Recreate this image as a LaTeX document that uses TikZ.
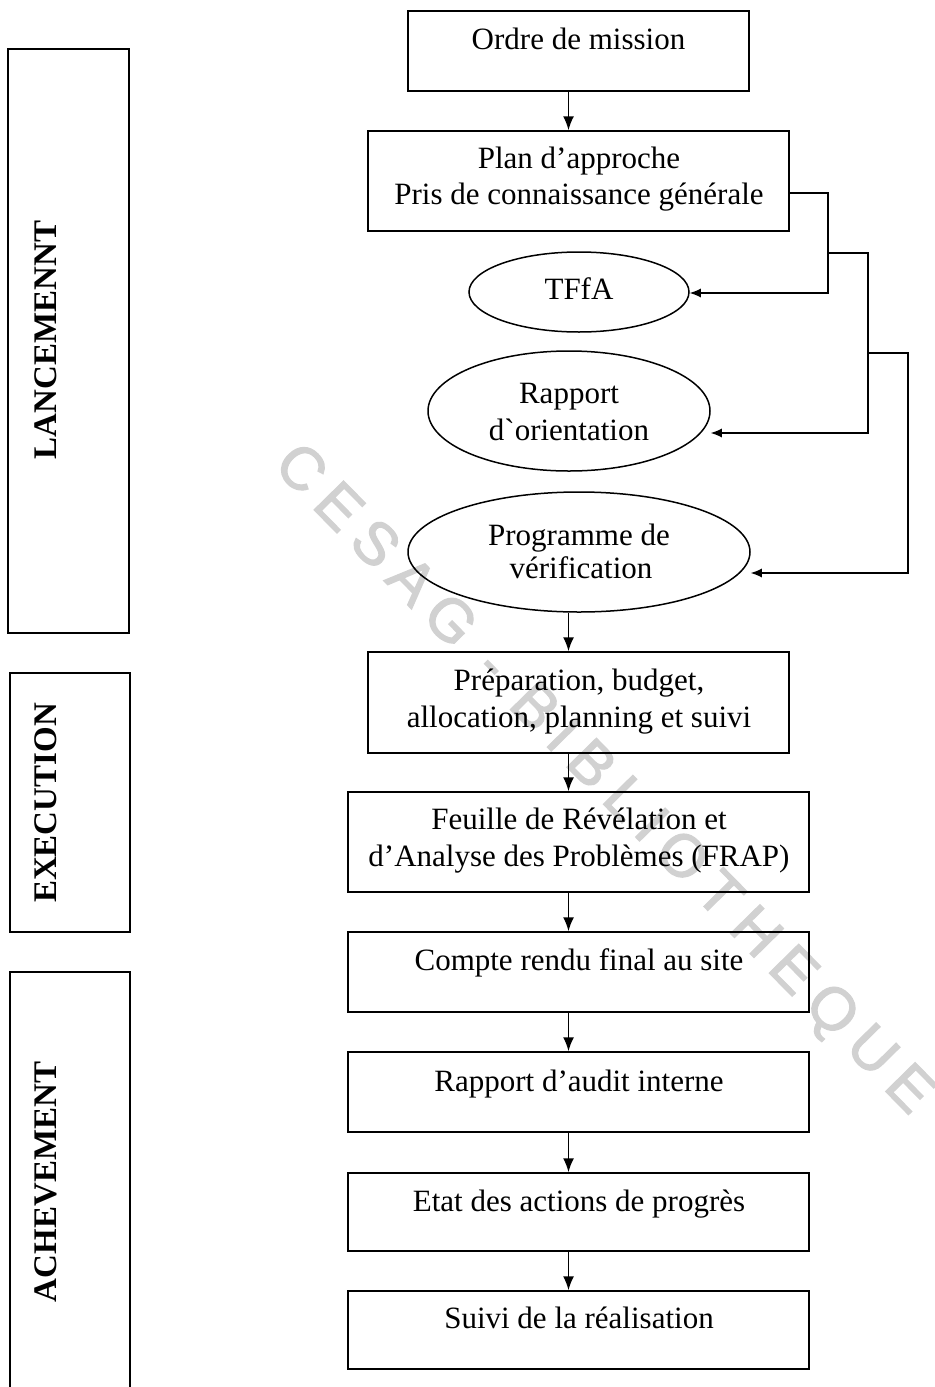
\documentclass[tikz,border=0pt]{standalone}
\usepackage{fontspec}
\setmainfont{Liberation Serif}
\newfontfamily\wmfont{Liberation Sans}[LetterSpace=20,FakeBold=2]
\usetikzlibrary{shapes.geometric,arrows.meta,fit}
% plain grave accent glyph (not turned into a quote by the TeX mapping)
\newcommand{\gravemark}{\XeTeXglyph\XeTeXcharglyph"0060\relax}

\begin{document}
\begin{tikzpicture}[x=0.5pt,y=-0.5pt,
  box/.style={draw, line width=0.75pt, rectangle, inner sep=0pt},
  oval/.style={draw, line width=0.75pt, ellipse, inner sep=0pt},
  txt/.style={anchor=base, inner sep=0pt, font=\fontsize{15.5pt}{18.5pt}\selectfont},
  phase/.style={anchor=base, rotate=90, inner sep=0pt, font=\fontsize{16.5pt}{19pt}\selectfont\bfseries},
  flow/.style={line width=0.8pt, -{Latex[length=7pt,width=5.5pt]}},
  feed/.style={line width=0.6pt, -{Latex[length=5.5pt,width=4.5pt]}}]

\useasboundingbox (0,0) rectangle (935,1387);
\fill[white] (0,0) rectangle (935,1387);

% library stamp across the page
\node[rotate=-45.5, text=black!18, inner sep=0pt,
      font=\wmfont\fontsize{30pt}{31pt}\selectfont] (stamp) at (602,781) {CESAG - BIBLIOTHEQUE};

% phase columns
\node[box, fit={(8,49) (129,633)}] (lanc) {};
\node[box, fit={(10,673) (130,932)}] (exec) {};
\node[box, fit={(10,972) (130,1400)}] (ach) {};
\node[phase] (lanc-t) at (56,340) {LANCEMENNT};
\node[phase] (exec-t) at (56,803) {EXECUTION};
\node[phase] (ach-t) at (56,1182) {ACHEVEMENT};

% process steps
\node[box, fit={(408,11) (749,91)}] (ordre) {};
\node[box, fit={(368,131) (789,231)}] (plan) {};
\node[oval, minimum width=110pt, minimum height=40pt] (tffa) at (579,292) {};
\node[oval, minimum width=141pt, minimum height=60pt] (rap) at (569,411) {};
\node[oval, minimum width=171pt, minimum height=60pt] (prog) at (579,552) {};
\node[box, fit={(368,652) (789,753)}] (prep) {};
\node[box, fit={(348,792) (809,892)}] (frap) {};
\node[box, fit={(348,932) (809,1012)}] (cr) {};
\node[box, fit={(348,1052) (809,1132)}] (rai) {};
\node[box, fit={(348,1173) (809,1251)}] (etat) {};
\node[box, fit={(348,1291) (809,1369)}] (suivi) {};

% labels
\node[txt] (ordre-t) at (578.5,49) {Ordre de mission};
\node[txt] (plan-t1) at (579,168) {Plan d’approche};
\node[txt] (plan-t2) at (579,204) {Pris de connaissance générale};
\node[txt] (tffa-t) at (579,299) {TFfA};
\node[txt] (rap-t1) at (569,403) {Rapport};
\node[txt] (rap-t2) at (569,440) {d\gravemark orientation};
\node[txt] (prog-t1) at (579,545) {Programme de};
\node[txt] (prog-t2) at (581,578) {vérification};
\node[txt] (prep-t1) at (579,690) {Préparation, budget,};
\node[txt] (prep-t2) at (579,727) {allocation, planning et suivi};
\node[txt] (frap-t1) at (579,829) {Feuille de Révélation et};
\node[txt] (frap-t2) at (579,866) {d’Analyse des Problèmes (FRAP)};
\node[txt] (cr-t) at (579,970) {Compte rendu final au site};
\node[txt] (rai-t) at (579,1091) {Rapport d’audit interne};
\node[txt] (etat-t) at (579,1211) {Etat des actions de progrès};
\node[txt] (suivi-t) at (579,1328) {Suivi de la réalisation};

% main sequence
\coordinate (axis) at (568.5,0);
\draw[flow] (ordre.south -| axis) -- (plan.north -| axis);
\draw[flow] (prog.south -| axis) -- (prep.north -| axis);
\draw[flow] (prep.south -| axis) -- (frap.north -| axis);
\draw[flow] (frap.south -| axis) -- (cr.north -| axis);
\draw[flow] (cr.south -| axis) -- (rai.north -| axis);
\draw[flow] (rai.south -| axis) -- (etat.north -| axis);
\draw[flow] (etat.south -| axis) -- (suivi.north -| axis);

% outputs of the approach plan
\coordinate (k1) at (828,193);
\coordinate (k1e) at (828,293);
\coordinate (k2) at (868,253);
\coordinate (k2e) at (868,433);
\coordinate (k3) at (908,353);
\coordinate (k3e) at (908,573);
\draw[feed] (plan.east |- k1) -- (k1) -- (k1e) -- (k1e -| tffa.east);
\draw[feed] (k2 -| k1) -- (k2) -- (k2e) -- (k2e -| rap.east);
\draw[feed] (k3 -| k2) -- (k3) -- (k3e) -- (k3e -| prog.east);
\end{tikzpicture}
\end{document}
